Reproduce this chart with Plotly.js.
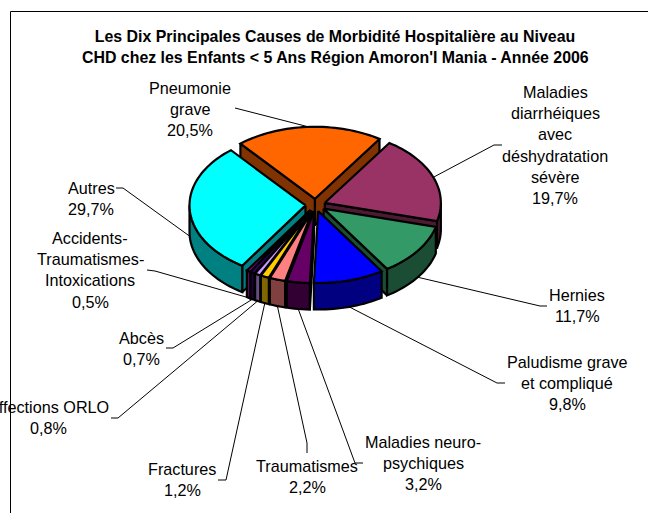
<!DOCTYPE html>
<html>
<head>
<meta charset="utf-8">
<script src="https://cdn.plot.ly/plotly-3.0.1.min.js"></script>
<style>html,body{margin:0;padding:0;background:#fff}#chart{width:648px;height:513px}</style>
</head>
<body>
<div id="chart"></div>
<script>
// ---- data ----
var titleLines = ["Les Dix Principales Causes de Morbidité Hospitalière au Niveau",
                  "CHD chez les Enfants < 5 Ans Région Amoron'I Mania - Année 2006"];
var categories = ["Pneumonie grave", "Maladies diarrhéiques avec déshydratation sévère", "Hernies",
  "Paludisme grave et compliqué", "Maladies neuro-psychiques", "Traumatismes", "Fractures",
  "Affections ORLO", "Abcès", "Accidents-Traumatismes-Intoxications", "Autres"];
var values = [20.5, 19.7, 11.7, 9.8, 3.2, 2.2, 1.2, 0.8, 0.7, 0.5, 29.7];
var valueLabels = ["20,5%", "19,7%", "11,7%", "9,8%", "3,2%", "2,2%", "1,2%", "0,8%", "0,7%", "0,5%", "29,7%"];

// ---- styles ----
var topColors  = ["#FF6600", "#993366", "#339966", "#0000FF", "#660066", "#FF8080", "#FFCC00", "#CC99FF", "#330066", "#FF00FF", "#00FFFF"];
var sideColors = ["#803300", "#4D1A33", "#1A4D33", "#000080", "#330033", "#804040", "#806600", "#664D80", "#1A0033", "#800080", "#008080"];

// ---- label layout ----
var labelLines = [["Pneumonie", "grave"], ["Maladies", "diarrhéiques", "avec", "déshydratation", "sévère"], ["Hernies"],
  ["Paludisme grave", "et compliqué"], ["Maladies neuro-", "psychiques"], ["Traumatismes"], ["Fractures"],
  ["Affections ORLO"], ["Abcès"], ["Accidents-", "Traumatismes-", "Intoxications"], ["Autres"]];
var labelX = [190, 555, 577, 567, 423, 307, 182, 48, 141, 90, 91];
var labelY = [88, 92, 295, 362, 442, 466, 469, 407, 338, 238, 188];
var labelStep = 21.2;
var leaderVia = [
  [[235,108]],
  [[494,145],[502,145]],
  [[540,306],[547,306]],
  [[497,383],[505,383]],
  [[355,463],[363,463]],
  [[307,443],[307,453]],
  [[226,480],[218,480]],
  [[118,418],[111,418]],
  [[173,348],[166,348]],
  [[155,271],[147,270]],
  [[123,188],[116,188]]
];

// ---- pie projection ----
var cx = 315.5, cy = 205, rx = 116, ry = 72, depth = 26.5, pull = 10, startAngle = -40;
function rad(d){ return d * Math.PI / 180; }
function px(o, a){ return o.x + rx * Math.sin(rad(a)); }
function py(o, a){ return o.y - ry * Math.cos(rad(a)); }

var total = values.reduce(function(s, v){ return s + v; }, 0);
var acc = startAngle;
var slices = values.map(function(v, i){
  var a0 = acc, a1 = acc + v / total * 360; acc = a1;
  var mid = (a0 + a1) / 2;
  return {i: i, a0: a0, a1: a1, mid: mid,
          x: cx + pull * Math.sin(rad(mid)), y: cy - pull * ry / rx * Math.cos(rad(mid))};
});

var traces = [];
function poly(xs, ys, color){
  xs.push(xs[0]); ys.push(ys[0]);
  traces.push({type: "scatter", mode: "lines", x: xs, y: ys, fill: "toself", fillcolor: color,
    line: {color: "#000", width: 2.2, simplify: false}, hoverinfo: "skip", showlegend: false});
}
function arc(o, a, b, dy){
  var n = Math.max(2, Math.ceil(Math.abs(b - a) / 2)), xs = [], ys = [];
  for (var k = 0; k <= n; k++) {
    var t = a + (b - a) * k / n;
    xs.push(px(o, t)); ys.push(py(o, t) + dy);
  }
  return {x: xs, y: ys};
}
function cutFace(s, a, color){
  poly([s.x, px(s, a), px(s, a), s.x], [s.y, py(s, a), py(s, a) + depth, s.y + depth], color);
}

slices.slice().sort(function(p, q){ return Math.cos(rad(q.mid)) - Math.cos(rad(p.mid)); }).forEach(function(s){
  var side = sideColors[s.i];
  if (Math.cos(rad(s.a0 - 90)) < -0.01) cutFace(s, s.a0, side);
  if (Math.cos(rad(s.a1 + 90)) < -0.01) cutFace(s, s.a1, side);
  var lo = Math.max(s.a0, 90), hi = Math.min(s.a1, 270);
  if (hi > lo) {
    var t = arc(s, lo, hi, 0), b = arc(s, hi, lo, depth);
    poly(t.x.concat(b.x), t.y.concat(b.y), side);
  }
  var top = arc(s, s.a0, s.a1, 0);
  poly([s.x].concat(top.x), [s.y].concat(top.y), topColors[s.i]);
});

// ---- labels and leaders ----
var annotations = [{text: titleLines[1], x: 335, y: 57, xref: "x", yref: "y", showarrow: false,
  font: {family: "Liberation Sans", size: 15.9, color: "#000", weight: 700}, xanchor: "center", yanchor: "middle"}];
var shapes = [
  {type: "path", path: "M10.5 513 L10.5 11.5 L648 11.5", xref: "x", yref: "y", line: {color: "#000", width: 1}}
];
categories.forEach(function(c, i){
  labelLines[i].concat([valueLabels[i]]).forEach(function(t, k){
    annotations.push({text: t, x: labelX[i], y: labelY[i] + k * labelStep, xref: "x", yref: "y",
      showarrow: false, xanchor: "center", yanchor: "middle",
      font: {family: "Liberation Sans", size: 16.2, color: "#000"}});
  });
  var s = slices[i], front = Math.cos(rad(s.mid)) < 0;
  var p = "M" + px(s, s.mid) + " " + (py(s, s.mid) + (front ? depth : 0));
  leaderVia[i].forEach(function(q){ p += " L" + q[0] + " " + q[1]; });
  shapes.push({type: "path", path: p, xref: "x", yref: "y", line: {color: "#000", width: 1}});
});

Plotly.newPlot("chart", traces, {
  width: 648, height: 513, margin: {l: 0, r: 0, t: 0, b: 0},
  paper_bgcolor: "#fff", plot_bgcolor: "#fff", showlegend: false,
  title: {text: titleLines[0], x: 335 / 648, xanchor: "center", y: 1 - 36 / 513, yanchor: "middle",
          font: {family: "Liberation Sans", size: 15.9, color: "#000", weight: 700}},
  xaxis: {range: [0, 648], visible: false, fixedrange: true},
  yaxis: {range: [513, 0], visible: false, fixedrange: true},
  annotations: annotations, shapes: shapes
}, {displayModeBar: false, staticPlot: true});
</script>
</body>
</html>
